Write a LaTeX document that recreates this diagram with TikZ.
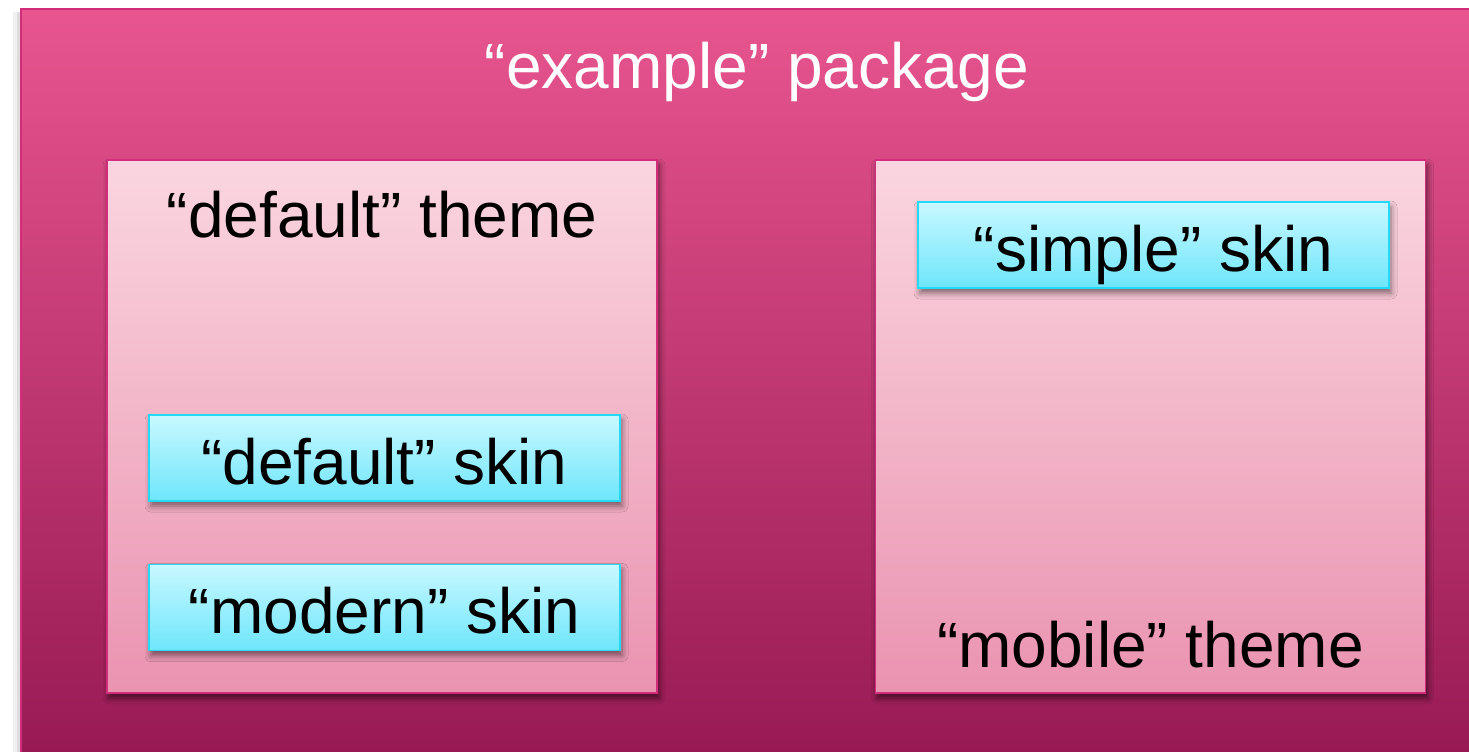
\documentclass[tikz,border=0pt]{standalone}
\usepackage{fontspec}
\setmainfont{Liberation Sans}
\usetikzlibrary{shadows.blur}

\definecolor{pkgtop}{HTML}{E8558F}
\definecolor{pkgbot}{HTML}{951852}
\definecolor{themetop}{HTML}{FAD6E0}
\definecolor{themebot}{HTML}{EA93B0}
\definecolor{themeline}{HTML}{D12D7A}
\definecolor{skintop}{HTML}{C8F8FF}
\definecolor{skinbot}{HTML}{6EE6FB}
\definecolor{skinline}{HTML}{22D9F7}

\begin{document}
\begin{tikzpicture}[x=0.5pt, y=-0.5pt,
    bigtext/.style={font=\fontsize{32}{38}\selectfont, inner sep=0pt},
    themebox/.style={draw=themeline, line width=0.8pt, top color=themetop, bottom color=themebot,
        minimum width=275pt, minimum height=266.5pt, inner sep=0pt,
        blur shadow={shadow xshift=1pt, shadow yshift=-2.5pt, shadow blur radius=3pt, shadow opacity=60}},
    skinbox/.style={draw=skinline, line width=0.8pt, top color=skintop, bottom color=skinbot,
        minimum width=235.5pt, minimum height=43pt, inner sep=0pt,
        font=\fontsize{32}{38}\selectfont, text height=28pt, text depth=2pt,
        blur shadow={shadow xshift=1pt, shadow yshift=-2.5pt, shadow blur radius=3pt, shadow opacity=50}}]
        \useasboundingbox (0,0) rectangle (1469,751);
        \clip (0,0) rectangle (1469,751);
        % package background
        \fill[black, opacity=0.06] (13,12) rectangle (1500,780);
        \fill[black, opacity=0.08] (17,12) rectangle (1500,780);
        \shade[top color=pkgtop, bottom color=pkgbot, draw=themeline, line width=0.6pt] (21,9) rectangle (1500,780);
        \node[bigtext, white, anchor=base] (pkglabel) at (757,88) {“example” package};
        % themes
        \node[themebox] (deftheme) at (382,426.5) {};
        \node[themebox] (mobtheme) at (1150.5,426.5) {};
        \node[bigtext, anchor=base] (deflabel) at (382,237) {“default” theme};
        \node[bigtext, anchor=base] (moblabel) at (1150.5,667) {“mobile” theme};
        % skins
        \node[skinbox] (defskin) at (384.5,458) {“default” skin};
        \node[skinbox] (modskin) at (384.5,607.5) {“modern” skin};
        \node[skinbox] (simskin) at (1153.5,245) {“simple” skin};
\end{tikzpicture}
\end{document}
